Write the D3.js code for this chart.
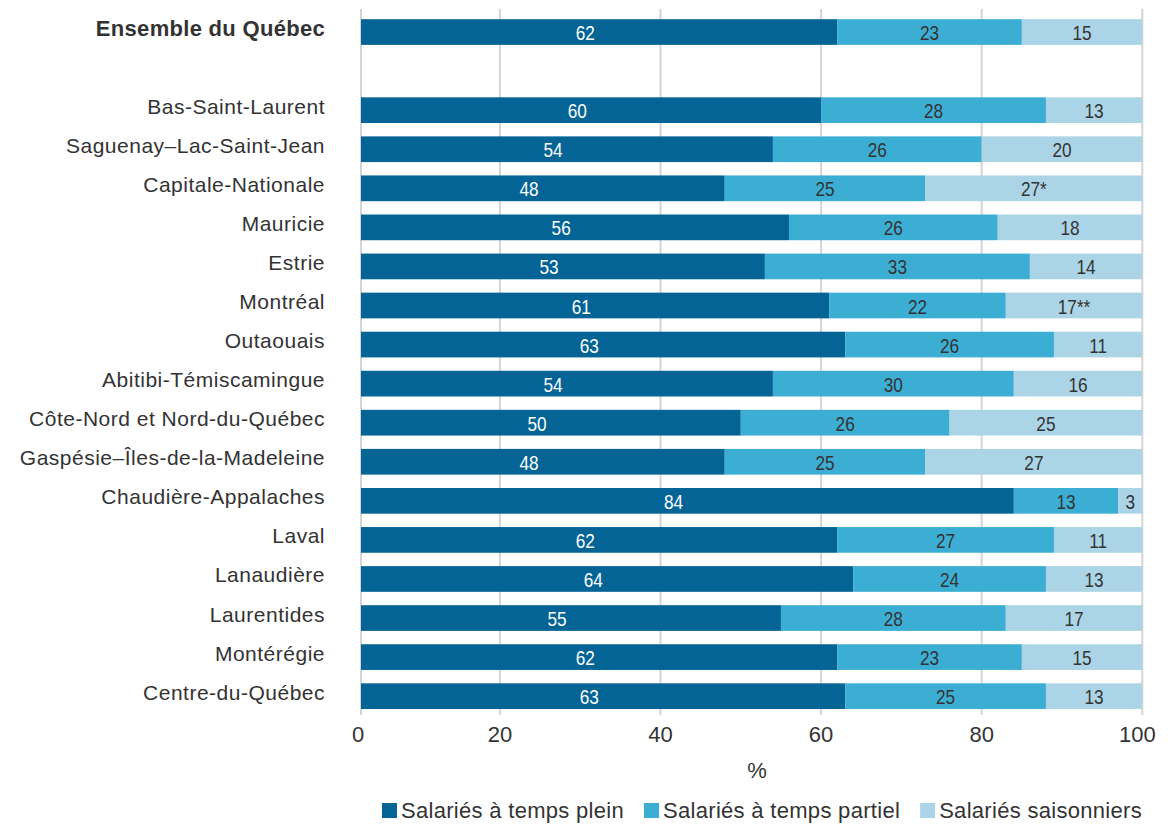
<!DOCTYPE html>
<html><head><meta charset="utf-8">
<script src="https://cdn.jsdelivr.net/npm/d3@7"></script>
<style>
body{margin:0;background:#fff;}
text{font-family:"Liberation Sans",Arial,sans-serif;fill:#333;}
</style></head>
<body><svg id="c" width="1169" height="825"></svg>
<script>
const categories = ["Ensemble du Québec","","Bas-Saint-Laurent","Saguenay–Lac-Saint-Jean","Capitale-Nationale","Mauricie","Estrie","Montréal","Outaouais","Abitibi-Témiscamingue","Côte-Nord et Nord-du-Québec","Gaspésie–Îles-de-la-Madeleine","Chaudière-Appalaches","Laval","Lanaudière","Laurentides","Montérégie","Centre-du-Québec"];
const tempsPlein   = [62,null,60,54,48,56,53,61,63,54,50,48,84,62,64,55,62,63];
const tempsPartiel = [23,null,28,26,25,26,33,22,26,30,26,25,13,27,24,28,23,25];
const saisonniers  = [15,null,13,20,27,18,14,17,11,16,25,27,3,11,13,17,15,13];
const saisonNotes  = ["",null,"","","*","","","**","","","","","","","","","",""];
const seriesNames = ["Salariés à temps plein","Salariés à temps partiel","Salariés saisonniers"];
const colors = ["#046496","#3caed4","#abd5e7"];
const xTicks = [0,20,40,60,80,100];
const xTitle = "%";

const svg = d3.select("#c");
const plotLeft = 361, plotRight = 1142.3;
const x = d3.scaleLinear().domain([0,100]).range([339.3,1142.3]);
const xp = v => Math.max(x(v), plotLeft);
const y = d3.scaleBand().domain(categories.map((c,i)=>i)).range([12.5,715.7]).paddingInner(0.342).paddingOuter(0.171);

svg.append("defs").append("clipPath").attr("id","plot")
  .append("rect").attr("x",plotLeft).attr("y",0).attr("width",plotRight-plotLeft).attr("height",825);

// gridlines
svg.append("g").selectAll("line").data(xTicks).join("line")
  .attr("x1",d=>xp(d)).attr("x2",d=>xp(d)).attr("y1",9).attr("y2",715)
  .attr("stroke","#d4d4d4").attr("stroke-width",2);

const rows = categories.map((c,i)=>({i, a:tempsPlein[i], b:tempsPartiel[i], c:saisonniers[i]})).filter(r=>r.a!==null);
const stack = d3.stack().keys(["a","b","c"])(rows);

const gBars = svg.append("g").attr("clip-path","url(#plot)");
const gLab = svg.append("g");
stack.forEach((layer,k)=>{
  gBars.append("g").attr("fill",colors[k]).selectAll("rect").data(layer).join("rect")
    .attr("x",d=>x(d[0])).attr("width",d=>x(d[1])-x(d[0]))
    .attr("y",d=>y(d.data.i)).attr("height",y.bandwidth());
  gLab.append("g").selectAll("text").data(layer).join("text")
    .attr("transform",d=>`translate(${(x(d[0])+Math.min(x(d[1]),plotRight))/2 - (k===0?3:0)},${y(d.data.i)+y.bandwidth()/2+8}) scale(0.82,1)`)
    .attr("text-anchor","middle")
    .style("font-size","21px")
    .style("fill",k===0?"#fff":"#333")
    .text(d=>(d[1]-d[0]) + (k===2 ? saisonNotes[d.data.i] : ""));
});

// category labels
svg.append("g").selectAll("text").data(categories.map((c,i)=>({c,i})).filter(d=>d.c!=="")).join("text")
  .attr("x",325).attr("y",d=>y(d.i)+y.bandwidth()/2+3.5)
  .attr("text-anchor","end")
  .style("font-size",d=>d.i===0?"22px":"21px")
  .style("font-weight",d=>d.i===0?"bold":"normal")
  .style("letter-spacing",d=>d.i===0?"0.3px":"0.5px")
  .text(d=>d.c);

// x axis
const xa = svg.append("g").attr("transform","translate(0,716)")
  .call(d3.axisBottom(x).tickValues(xTicks).tickSize(0).tickPadding(10));
xa.select(".domain").remove();
xa.selectAll(".tick").attr("transform",d=>`translate(${xp(d)},0)`);
xa.selectAll("text").style("font-size","22px").style("font-family","'Liberation Sans',sans-serif").attr("fill","#333")
  .attr("dx",d=>d===100?-5:d===0?-3:0);

svg.append("text").attr("x",757).attr("y",778).attr("text-anchor","middle").style("font-size","22px").text(xTitle);

// legend
const lg = svg.append("g");
let items = seriesNames.map((n,k)=>{
  const g = lg.append("g");
  g.append("rect").attr("width",15).attr("height",15).attr("y",-15).attr("fill",colors[k]);
  const t = g.append("text").attr("x",19).attr("y",0).style("font-size","22px").style("letter-spacing","0.3px").text(n);
  return {g, w: 19 + t.node().getComputedTextLength()};
});
const total = d3.sum(items,d=>d.w) + 20*(items.length-1);
let cx = 762 - total/2;
items.forEach(it=>{ it.g.attr("transform",`translate(${cx},818)`); cx += it.w + 20; });
</script></body></html>
